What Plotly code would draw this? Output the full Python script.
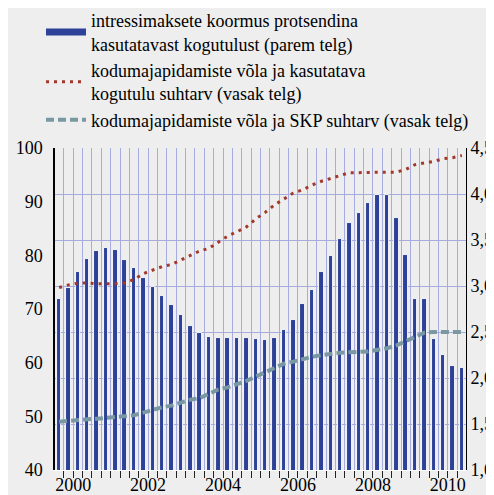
import plotly.graph_objects as go

# ---- data -------------------------------------------------------------
years = list(range(2000, 2011))
quarters = [f"{y} K{q}" for y in years for q in range(1, 5)]
year_labels = ["2000", "2002", "2004", "2006", "2008", "2010"]

# interest burden, % of disposable income (right axis)
interest_burden = [
    2.86, 2.98, 3.15, 3.29, 3.38, 3.41, 3.39, 3.28,
    3.20, 3.09, 2.99, 2.89, 2.79, 2.68, 2.56, 2.49,
    2.45, 2.44, 2.44, 2.44, 2.44, 2.42, 2.41, 2.44,
    2.52, 2.63, 2.80, 2.96, 3.15, 3.33, 3.51, 3.68,
    3.79, 3.90, 3.99, 3.99, 3.74, 3.34, 2.86, 2.86,
    2.42, 2.25, 2.13, 2.11,
]

# household debt / disposable income (left axis)
debt_to_income = [
    74.0, 74.5, 74.8, 74.85, 74.7, 74.7, 74.7, 74.85,
    75.5, 76.6, 77.2, 77.9, 78.3, 79.1, 79.9, 80.8,
    81.3, 82.4, 83.6, 84.4, 85.3, 86.8, 88.0, 89.4,
    90.5, 91.6, 92.2, 93.1, 93.8, 94.3, 94.8, 95.4,
    95.4, 95.5, 95.5, 95.5, 95.5, 96.0, 96.9, 97.2,
    97.5, 98.0, 98.2, 98.6,
]

# household debt / GDP (left axis)
debt_to_gdp = [
    49.0, 49.2, 49.3, 49.45, 49.55, 49.7, 49.8, 49.9,
    50.2, 50.7, 51.2, 51.7, 52.0, 52.5, 53.1, 53.4,
    54.1, 55.0, 55.4, 56.0, 56.6, 57.4, 58.2, 59.2,
    59.8, 60.2, 60.7, 61.1, 61.4, 61.7, 61.85, 61.95,
    62.0, 62.1, 62.4, 62.7, 63.2, 64.0, 64.9, 65.6,
    65.7, 65.7, 65.7, 65.7,
]

right_ticks = [1.0, 1.5, 2.0, 2.5, 3.0, 3.5, 4.0, 4.5]
left_ticks = [40, 50, 60, 70, 80, 90, 100]

legend_names = [
    "intressimaksete koormus protsendina<br>kasutatavast kogutulust (parem telg)",
    "kodumajapidamiste võla ja kasutatava<br>kogutulu suhtarv (vasak telg)",
    "kodumajapidamiste võla ja SKP suhtarv (vasak telg)",
]

# ---- styling ----------------------------------------------------------
BG = "#eeeeee"
BLUE = "#2c4197"
RED = "#a3382c"
TEAL = "#7a98a2"
GRID = "#a6acdf"
FONT = "Liberation Serif, Tinos, 'Times New Roman', 'DejaVu Serif', serif"
FS = 18

xpos = list(range(1, len(quarters) + 1))
label_pos = [xpos[quarters.index(f"{y} K1")] + 1.5 for y in map(int, year_labels)]
boundaries = [p - 0.5 for p in xpos] + [xpos[-1] + 0.5]

fig = go.Figure()

# bars on right axis (main y)
fig.add_trace(go.Bar(
    x=xpos, y=interest_burden, yaxis="y", width=0.48,
    marker=dict(color=BLUE, line=dict(color="white", width=0.9)),
    showlegend=False, name=legend_names[0],
))
# legend proxy for the bars (thick bar symbol)
fig.add_trace(go.Scatter(
    x=[None], y=[None], mode="lines", yaxis="y",
    line=dict(color=BLUE, width=7), name=legend_names[0],
))
fig.add_trace(go.Scatter(
    x=xpos, y=debt_to_income, yaxis="y2", mode="lines",
    line=dict(color=RED, width=3, dash="3px,5px"), name=legend_names[1],
))
fig.add_trace(go.Scatter(
    x=xpos, y=debt_to_gdp, yaxis="y2", mode="lines",
    line=dict(color=TEAL, width=4, dash="8px,4px"), name=legend_names[2],
))

fig.update_layout(
    width=494, height=495,
    margin=dict(l=47, r=36, t=140, b=33, autoexpand=False),
    paper_bgcolor=BG, plot_bgcolor=BG,
    separators=",.",
    font=dict(family=FONT, size=FS, color="black"),
    bargap=0,
    legend=dict(
        xref="container", yref="paper",
        x=33 / 494, y=1 + 146 / 322, xanchor="left", yanchor="top",
        bgcolor="rgba(0,0,0,0)", font=dict(family=FONT, size=FS),
        tracegroupgap=0, itemwidth=40,
    ),
    xaxis=dict(
        range=[0.56, 44.44],
        tickmode="array", tickvals=label_pos, ticktext=year_labels,
        ticks="", showgrid=False, zeroline=False,
        showline=True, linecolor="white", linewidth=1,
        ticklabelstandoff=-2,
        tickfont=dict(family=FONT, size=FS),
        minor=dict(tickmode="array", tickvals=boundaries, ticks="outside",
                   ticklen=7, tickwidth=1, tickcolor="#222",
                   showgrid=True, gridcolor=GRID, gridwidth=1),
    ),
    yaxis=dict(
        side="right", range=[1.0, 4.5], tickmode="array",
        tickvals=right_ticks, tickformat=".1f",
        showgrid=True, gridcolor=GRID, gridwidth=1, zeroline=False,
        showline=True, linecolor="black", linewidth=1,
        ticks="", ticklabelstandoff=0,
        tickfont=dict(family=FONT, size=FS),
    ),
    # tick marks only, for the right axis
    yaxis3=dict(
        side="right", overlaying="y", anchor="x", range=[1.0, 4.5],
        tickmode="array", tickvals=right_ticks, showticklabels=False,
        ticks="outside", ticklen=4, tickcolor="black", tickwidth=1.5,
        showgrid=False, zeroline=False, showline=False,
    ),
    yaxis2=dict(
        side="left", overlaying="y", range=[40, 100],
        tickmode="array", tickvals=left_ticks,
        showgrid=False, zeroline=False,
        showline=True, linecolor="black", linewidth=1.5,
        ticks="", ticklabelstandoff=7,
        tickfont=dict(family=FONT, size=FS),
    ),
)

fig.write_html("out.html")
